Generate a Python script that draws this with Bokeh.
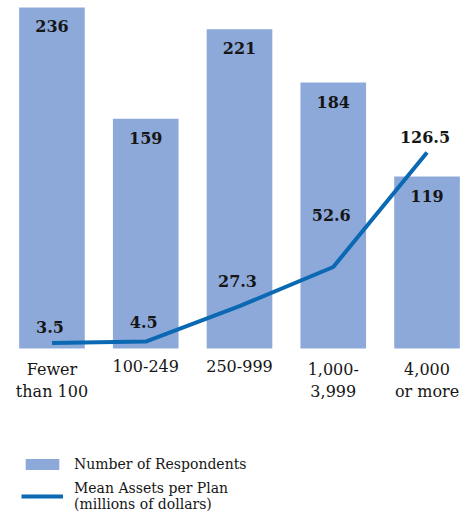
from bokeh.plotting import figure
from bokeh.models import ColumnDataSource, Range1d, Legend, LegendItem
from bokeh.embed import file_html
from bokeh.resources import INLINE
from bokeh.core.properties import value

# ---- data ----
categories = ["Fewer\nthan 100", "100-249", "250-999", "1,000-\n3,999", "4,000\nor more"]
respondents = [236, 159, 221, 184, 119]
mean_assets = [3.5, 4.5, 27.3, 52.6, 126.5]
asset_labels = ["3.5", "4.5", "27.3", "52.6", "126.5"]

# ---- style ----
BAR = "#8DA9DA"
LINE = "#0B68B3"
TXT = "#161616"
asset_label_offsets = [-16, -20, -25, -52, -15]

xs = list(range(len(categories)))
src = ColumnDataSource(dict(
    x=xs, cat=categories, n=respondents, n_lbl=[str(v) for v in respondents],
    a=mean_assets, a_lbl=asset_labels, a_off=asset_label_offsets,
))

p = figure(width=463, height=515, output_backend="svg", toolbar_location=None,
           x_range=Range1d(-0.549, 4.389), y_range=Range1d(-115.57, 240.83),
           min_border=0, x_axis_location=None, y_axis_location=None,
           outline_line_color=None)
p.extra_y_ranges = {"assets": Range1d(-107.74, 224.52)}
p.grid.visible = False
p.background_fill_color = "white"
p.border_fill_color = "white"

bars = p.vbar(x="x", top="n", bottom=0, width=0.70, source=src,
              fill_color=BAR, line_color=None)
line = p.line(x="x", y="a", source=src, line_color=LINE, line_width=4,
              y_range_name="assets")

# bar value labels
p.text(x="x", y="n", text="n_lbl", source=src, text_align="center",
       text_baseline="middle", y_offset=19, text_font=value("DejaVu Serif"),
       text_font_style="bold", text_font_size="16px", text_color=TXT)

# line value labels
p.text(x="x", y="a", text="a_lbl", source=src, text_align="center",
       text_baseline="middle", y_offset="a_off", x_offset=-2,
       y_range_name="assets", text_font=value("DejaVu Serif"),
       text_font_style="bold", text_font_size="16px", text_color=TXT)

# category labels
p.text(x="x", y=0, text="cat", source=src, text_align="center",
       text_baseline="top", y_offset=11, text_font=value("DejaVu Serif"),
       text_font_size="16px", text_line_height=1.2, text_color=TXT)

legend = Legend(items=[
    LegendItem(label="Number of Respondents", renderers=[bars]),
    LegendItem(label="Mean Assets per Plan\n(millions of dollars)", renderers=[line]),
], location=(21, 3), glyph_width=42, glyph_height=14, label_standoff=11,
   padding=0, margin=0, spacing=8, border_line_color=None,
   background_fill_alpha=0, label_text_font="DejaVu Serif",
   label_text_font_size="14px", label_text_line_height=1.45,
   label_text_color=TXT)
p.add_layout(legend)

open("out.html", "w").write(file_html(p, INLINE))
